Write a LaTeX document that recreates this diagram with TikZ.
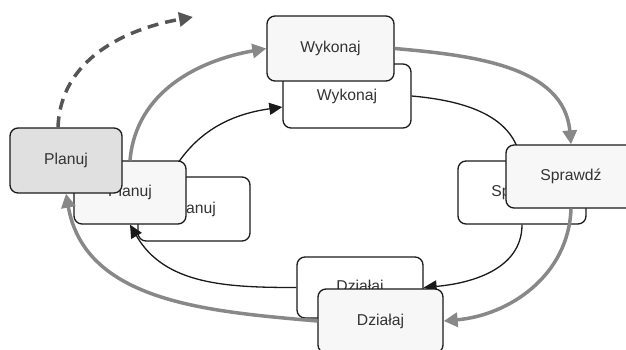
\documentclass[tikz,border=0pt]{standalone}
\usepackage{fontspec}
\setmainfont{Liberation Sans}
\usetikzlibrary{arrows.meta}
\definecolor{edgegray}{HTML}{888888}
\definecolor{dashgray}{HTML}{555555}
\definecolor{boxline}{HTML}{1A1A1A}
\definecolor{frontfill}{HTML}{F7F7F7}
\definecolor{planfill}{HTML}{E0E0E0}
\definecolor{txt}{HTML}{333333}
\tikzset{
  box/.style={draw=boxline, line width=1.3pt, rounded corners=8pt, text=txt,
    font=\fontsize{15.7}{18}\selectfont, inner sep=0pt},
  backbox/.style={box, fill=white},
  frontbox/.style={box, fill=frontfill},
  blackarrow/.style={draw=boxline, line width=1.3pt, -{Triangle[length=13pt,width=12pt]}},
  grayarrow/.style={draw=edgegray, line width=3.5pt, -{Triangle[length=14pt,width=14pt]}},
  dasharrow/.style={draw=dashgray, line width=3.5pt, dash pattern=on 11pt off 7pt,
    -{Triangle[length=14pt,width=14pt]}},
}
\begin{document}
\begin{tikzpicture}[x=1pt,y=-1pt]
\useasboundingbox (0,0) rectangle (626,349);
\clip (0,0) rectangle (626,349);
% back layer
\node[backbox, minimum width=112pt, minimum height=64pt] (P3) at (194,209) {Planuj};
\node[backbox, minimum width=128pt, minimum height=64pt] (W2) at (347,96) {Wykonaj};
\node[backbox, minimum width=128pt, minimum height=63pt] (S2) at (522,192.5) {Sprawdź};
\node[backbox, minimum width=126pt, minimum height=61pt] (D2) at (360,287.5) {Działaj};
% black cycle
\draw[blackarrow] ([xshift=32pt,yshift=-1pt]P3.north west) to[out=62,in=188] ([yshift=-11pt]W2.west);
\draw[blackarrow] (W2.east) to[out=-5,in=110] (S2.north);
\draw[blackarrow] (S2.south) to[out=-90,in=5] (D2.east);
% middle layer
\node[frontbox, minimum width=112pt, minimum height=63pt] (P2) at (130,192.5) {Planuj};
\draw[blackarrow] (D2.west) to[out=180,in=-60] (P2.south);
% front layer
\node[frontbox, minimum width=127pt, minimum height=65pt] (W1) at (330.5,48.5) {Wykonaj};
\node[frontbox, minimum width=130pt, minimum height=63pt] (S1) at (571,176.5) {Sprawdź};
\node[frontbox, minimum width=125pt, minimum height=64pt] (D1) at (380.5,321) {Działaj};
\node[box, fill=planfill, minimum width=112pt, minimum height=65pt] (P1) at (66,160.5) {Planuj};
% gray cycle
\draw[grayarrow] (P2.north) to[out=85,in=190] (W1.west);
\draw[grayarrow] (W1.east) to[out=-5,in=95] (S1.north);
\draw[grayarrow] (S1.south) to[out=-92,in=5] (D1.east);
\draw[grayarrow] (D1.west) to[out=175,in=-80] (P1.south);
% dashed
\coordinate (dashend) at (193,17);
\draw[dasharrow] ([xshift=-8pt]P1.north) to[out=88,in=190] (dashend);
\end{tikzpicture}
\end{document}
